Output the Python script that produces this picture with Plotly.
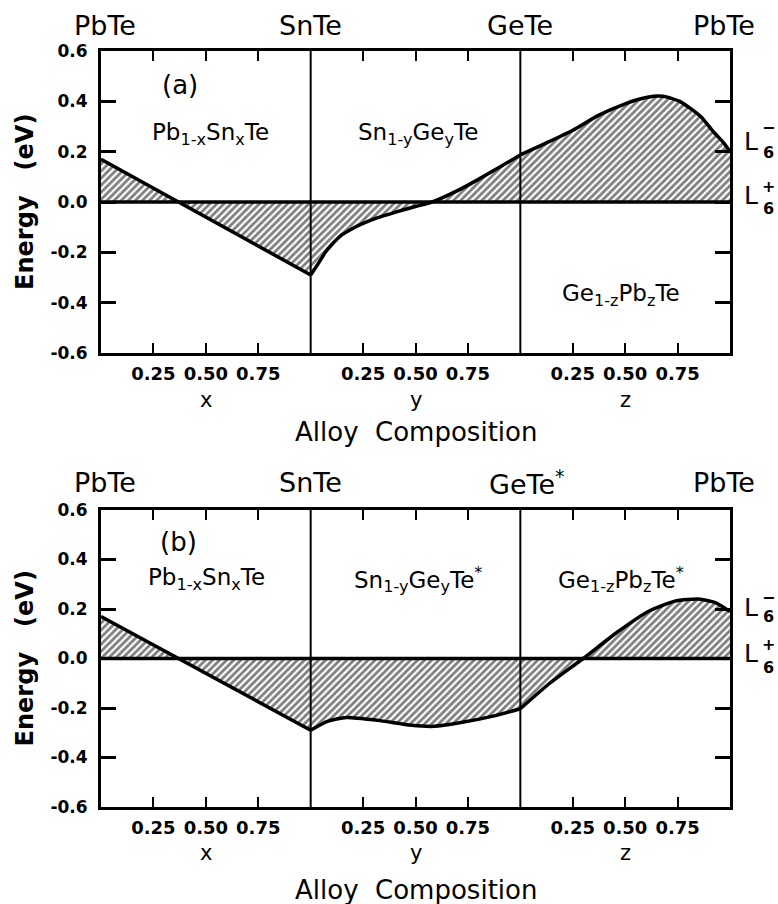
import plotly.graph_objects as go

# ---------------------------------------------------------------
# L6+/L6- band-edge energy (eV) across the three pseudo-binary
# alloy branches  PbTe -> SnTe -> GeTe -> PbTe
# ---------------------------------------------------------------

# composition fractions within each branch
x_frac = [0.0, 1.0]
y_frac_a = [0.0, 0.02, 0.04, 0.07, 0.1, 0.15, 0.2, 0.25, 0.31, 0.38, 0.44, 0.5,
            0.58, 0.7, 0.8, 0.9, 1.0]
z_frac_a = [0.0, 0.125, 0.25, 0.375, 0.5, 0.6, 0.68, 0.76, 0.86, 0.92, 0.97, 1.0]
y_frac_b = [0.0, 0.08, 0.17, 0.32, 0.48, 0.59, 0.71, 0.87, 1.0]
z_frac_b = [0.0, 0.14, 0.3, 0.46, 0.61, 0.74, 0.85, 0.93, 1.0]

# panel (a): Pb1-xSnxTe, Sn1-yGeyTe, Ge1-zPbzTe
x_gap_a = [0.17, -0.29]
y_gap_a = [-0.29, -0.265, -0.24, -0.2, -0.17, -0.13, -0.105, -0.085, -0.065, -0.047,
           -0.032, -0.018, 0.0, 0.045, 0.09, 0.138, 0.187]
z_gap_a = [0.187, 0.235, 0.285, 0.345, 0.39, 0.415, 0.42, 0.40, 0.34, 0.28, 0.235, 0.2]

# panel (b): Pb1-xSnxTe, Sn1-yGeyTe*, Ge1-zPbzTe*
x_gap_b = [0.17, -0.29]
y_gap_b = [-0.29, -0.254, -0.238, -0.25, -0.27, -0.274, -0.26, -0.233, -0.203]
z_gap_b = [-0.203, -0.1, 0.0, 0.105, 0.19, 0.232, 0.24, 0.226, 0.19]

end_members_a = ["PbTe", "SnTe", "GeTe", "PbTe"]
end_members_b = ["PbTe", "SnTe", "GeTe<sup>*</sup>", "PbTe"]
alloys_a = ["Pb<sub>1-x</sub>Sn<sub>x</sub>Te", "Sn<sub>1-y</sub>Ge<sub>y</sub>Te",
            "Ge<sub>1-z</sub>Pb<sub>z</sub>Te"]
alloys_b = ["Pb<sub>1-x</sub>Sn<sub>x</sub>Te", "Sn<sub>1-y</sub>Ge<sub>y</sub>Te<sup>*</sup>",
            "Ge<sub>1-z</sub>Pb<sub>z</sub>Te<sup>*</sup>"]
branch_vars = ["x", "y", "z"]
comp_ticks = [0.25, 0.50, 0.75]
energy_ticks = [-0.6, -0.4, -0.2, 0.0, 0.2, 0.4, 0.6]

FONT = "DejaVu Sans"
INK = "black"

fig = go.Figure()


def add_branches(xa, ya, branches):
    for k, (frac, gap, shape) in enumerate(branches):
        fig.add_trace(go.Scatter(
            x=[k + f for f in frac], y=gap, xaxis=xa, yaxis=ya,
            mode="lines", line=dict(color=INK, width=3.5, shape=shape, smoothing=0.6),
            fill="tozeroy", fillcolor="white",
            fillpattern=dict(shape="/", fgcolor=INK, bgcolor="white", size=5, solidity=0.55),
            showlegend=False, hoverinfo="skip"))


add_branches("x", "y", [(x_frac, x_gap_a, "linear"), (y_frac_a, y_gap_a, "spline"),
                        (z_frac_a, z_gap_a, "spline")])
add_branches("x2", "y2", [(x_frac, x_gap_b, "linear"), (y_frac_b, y_gap_b, "spline"),
                          (z_frac_b, z_gap_b, "spline")])

tickvals_x = [k + t for k in range(3) for t in comp_ticks]
ticktext_x = [f"{t:.2f}" for k in range(3) for t in comp_ticks]

xaxis_style = dict(range=[0, 3], tickvals=tickvals_x, ticktext=ticktext_x,
                   ticks="inside", ticklen=10, tickwidth=2, tickcolor=INK,
                   showline=True, linewidth=3, linecolor=INK, mirror="allticks",
                   showgrid=False, zeroline=False, automargin=False,
                   ticklabelstandoff=2,
                   tickfont=dict(family=FONT, size=18, color=INK, weight="bold"))
yaxis_style = dict(range=[-0.6, 0.6], tickvals=energy_ticks,
                   ticktext=[f"{v:.1f}" for v in energy_ticks],
                   ticks="inside", ticklen=15, tickwidth=3, tickcolor=INK,
                   showline=True, linewidth=3, linecolor=INK, mirror="allticks",
                   showgrid=False, zeroline=False, automargin=False,
                   ticklabelstandoff=7,
                   tickfont=dict(family=FONT, size=17, color=INK, weight="bold"))

H = 904
fig.update_layout(
    width=778, height=H,
    margin=dict(l=101, r=48, t=0, b=0),
    paper_bgcolor="white", plot_bgcolor="white",
    xaxis=dict(domain=[0, 1], anchor="y", **xaxis_style),
    yaxis=dict(domain=[1 - 353 / H, 1 - 51 / H], anchor="x", **yaxis_style),
    xaxis2=dict(domain=[0, 1], anchor="y2", **xaxis_style),
    yaxis2=dict(domain=[1 - 807 / H, 1 - 510 / H], anchor="x2", **yaxis_style),
)

# band-inversion line (E = 0) and the branch boundaries
for xa, ya in (("x", "y"), ("x2", "y2")):
    fig.add_shape(type="line", xref=xa, yref=ya, x0=0, x1=3, y0=0, y1=0,
                  line=dict(color=INK, width=3.5), layer="above")
    for b in (1, 2):
        fig.add_shape(type="line", xref=xa, yref=ya, x0=b, x1=b, y0=-0.6, y1=0.6,
                      line=dict(color=INK, width=2), layer="above")


def text(x, y, s, size, xref, yref, **kw):
    kw.setdefault("xanchor", "center")
    kw.setdefault("yanchor", "middle")
    fig.add_annotation(x=x, y=y, text=s, xref=xref, yref=yref, showarrow=False,
                       font=dict(family=FONT, size=size, color=INK), **kw)


panels = [
    dict(xa="x", ya="y", tag="(a)", ends=end_members_a, alloys=alloys_a,
         top_y=1 - 26 / H, var_y=1 - 400 / H, title_y=1 - 432 / H,
         tag_pos=(0.376, 0.465),
         alloy_pos=[(0.52, 0.27), (1.51, 0.27), (2.48, -0.37)],
         lm=(0.24, 0.295, 0.195), lp=(0.025, 0.06, -0.024)),
    dict(xa="x2", ya="y2", tag="(b)", ends=end_members_b, alloys=alloys_b,
         top_y=1 - 482 / H, var_y=1 - 853 / H, title_y=1 - 890 / H,
         tag_pos=(0.37, 0.47),
         alloy_pos=[(0.505, 0.32), (1.51, 0.32), (2.48, 0.32)],
         lm=(0.206, 0.247, 0.17), lp=(0.02, 0.057, -0.036)),
]

for p in panels:
    xa, ya = p["xa"], p["ya"]
    # end-member compounds along the top
    for k, name in enumerate(p["ends"]):
        xs = 0.02 if k == 0 else (2.97 if k == 3 else k)
        text(xs, p["top_y"], name, 27, xa, "paper", xshift=7 if "*" in name else 0)
    # alloy names inside each branch
    for (ax_, ay_), name in zip(p["alloy_pos"], p["alloys"]):
        text(ax_, ay_, name, 23, xa, ya)
    # panel tag
    text(p["tag_pos"][0], p["tag_pos"][1], p["tag"], 26, xa, ya)
    # composition variable under each branch
    for k, v in enumerate(branch_vars):
        text(k + 0.5, p["var_y"], v, 21, xa, "paper")
    text(1.5, p["title_y"], "Alloy  Composition", 26, xa, "paper")
    # energy axis title
    text(-0.121, 0.5, "<b>Energy   (eV)</b>", 24, "paper", ya + " domain", textangle=-90)
    # L6- and L6+ band labels on the right
    for (yc, ysup, ysub), sign in ((p["lm"], "\u2212"), (p["lp"], "+")):
        text(1.033, yc, "L", 25, "paper", ya)
        text(1.062, ysup, f"<b>{sign}</b>", 16, "paper", ya)
        text(1.062, ysub, "<b>6</b>", 16, "paper", ya)

fig.write_html("out.html")
